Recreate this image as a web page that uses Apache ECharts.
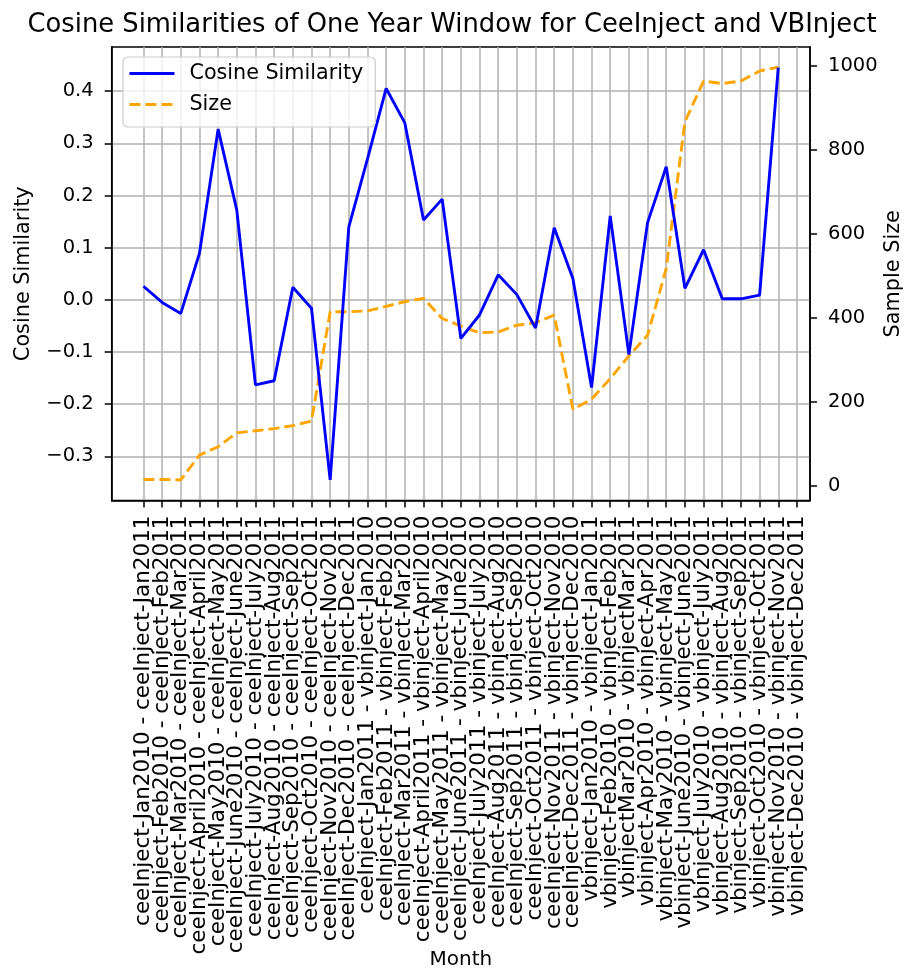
<!DOCTYPE html>
<html>
<head>
<meta charset="utf-8">
<script src="https://cdn.jsdelivr.net/npm/echarts@6/dist/echarts.min.js"></script>
<style>html,body{margin:0;padding:0;background:#fff;}#c{width:904px;height:971px;}</style>
</head>
<body>
<div id="c"></div>
<script>
const windowLabels = [
  'ceeInject-Jan2010 - ceeInject-Jan2011',
  'ceeInject-Feb2010 - ceeInject-Feb2011',
  'ceeInject-Mar2010 - ceeInject-Mar2011',
  'ceeInject-April2010 - ceeInject-April2011',
  'ceeInject-May2010 - ceeInject-May2011',
  'ceeInject-June2010 - ceeInject-June2011',
  'ceeInject-July2010 - ceeInject-July2011',
  'ceeInject-Aug2010 - ceeInject-Aug2011',
  'ceeInject-Sep2010 - ceeInject-Sep2011',
  'ceeInject-Oct2010 - ceeInject-Oct2011',
  'ceeInject-Nov2010 - ceeInject-Nov2011',
  'ceeInject-Dec2010 - ceeInject-Dec2011',
  'ceeInject-Jan2011 - vbinject-Jan2010',
  'ceeInject-Feb2011 - vbinject-Feb2010',
  'ceeInject-Mar2011 - vbinject-Mar2010',
  'ceeInject-April2011 - vbinject-April2010',
  'ceeInject-May2011 - vbinject-May2010',
  'ceeInject-June2011 - vbinject-June2010',
  'ceeInject-July2011 - vbinject-July2010',
  'ceeInject-Aug2011 - vbinject-Aug2010',
  'ceeInject-Sep2011 - vbinject-Sep2010',
  'ceeInject-Oct2011 - vbinject-Oct2010',
  'ceeInject-Nov2011 - vbinject-Nov2010',
  'ceeInject-Dec2011 - vbinject-Dec2010',
  'vbinject-Jan2010 - vbinject-Jan2011',
  'vbinject-Feb2010 - vbinject-Feb2011',
  'vbinjectMar2010 - vbinjectMar2011',
  'vbinject-Apr2010 - vbinject-Apr2011',
  'vbinject-May2010 - vbinject-May2011',
  'vbinject-June2010 - vbinject-June2011',
  'vbinject-July2010 - vbinject-July2011',
  'vbinject-Aug2010 - vbinject-Aug2011',
  'vbinject-Sep2010 - vbinject-Sep2011',
  'vbinject-Oct2010 - vbinject-Oct2011',
  'vbinject-Nov2010 - vbinject-Nov2011',
  'vbinject-Dec2010 - vbinject-Dec2011'
];
const cosineSimilarity = [
  0.026, -0.005, -0.026, 0.089, 0.327, 0.172, -0.163, -0.155, 0.024, -0.016,
  -0.345, 0.140, 0.270, 0.405, 0.339, 0.153, 0.193, -0.074, -0.029, 0.048,
  0.010, -0.054, 0.138, 0.041, -0.168, 0.161, -0.105, 0.148, 0.255, 0.022,
  0.096, 0.002, 0.002, 0.009, 0.445
];
const sampleSize = [
  15, 15, 14, 73, 93, 126, 131, 136, 143, 154,
  414, 414, 416, 427, 438, 446, 398, 380, 364, 366,
  382, 388, 406, 182, 206, 255, 309, 358, 517, 866,
  963, 957, 963, 987, 996
];
const leftTicks = [-0.3, -0.2, -0.1, 0.0, 0.1, 0.2, 0.3, 0.4];
const rightTicks = [0, 200, 400, 600, 800, 1000];

const X_MIN = -1.7, X_MAX = 35.7;
const xTicks = windowLabels.map((_, i) => i);
// blank sentinel labels at both ends so ECharts' min/max-overlap check keeps every real label
const xLabelValues = [X_MIN].concat(xTicks, [X_MAX]);
const FONT = 'DejaVu Sans';
const FS = 19.5;

const chart = echarts.init(document.getElementById('c'), null, {renderer: 'canvas'});
chart.setOption({
  animation: false,
  backgroundColor: '#fff',
  textStyle: {fontFamily: FONT},
  title: {
    text: 'Cosine Similarities of One Year Window for CeeInject and VBInject',
    left: 'center', top: 7,
    textStyle: {fontFamily: FONT, fontSize: 25.8, fontWeight: 'normal', color: '#000'}
  },
  legend: {
    orient: 'vertical', left: 123, top: 57,
    padding: [1, 12, 7, 5],
    itemWidth: 45, itemHeight: 3, itemGap: 0,
    backgroundColor: 'rgba(255,255,255,0.8)',
    borderColor: '#cccccc', borderWidth: 1.2, borderRadius: 5,
    itemStyle: {opacity: 0},
    lineStyle: {width: 2.9},
    textStyle: {fontFamily: FONT, fontSize: 20.7, color: '#000', lineHeight: 31, padding: [0, 0, 0, 10]},
    data: ['Cosine Similarity', 'Size']
  },
  grid: {
    left: 111.7, right: 94, top: 47, bottom: 470.5,
    outerBoundsMode: 'none', containLabel: false,
    show: true, borderColor: '#000', borderWidth: 1.5, backgroundColor: 'transparent'
  },
  xAxis: {
    type: 'value', min: X_MIN, max: X_MAX,
    name: 'Month', nameLocation: 'middle', nameGap: 449, nameMoveOverlap: false,
    nameTextStyle: {fontFamily: FONT, fontSize: 20, color: '#000'},
    axisLine: {show: true, onZero: false, lineStyle: {color: '#000', width: 1.5}},
    axisTick: {show: true, customValues: xTicks, length: 7, lineStyle: {color: '#000', width: 1.5}},
    axisLabel: {
      customValues: xLabelValues, rotate: 90, margin: 15,
      hideOverlap: false,
      fontFamily: FONT, fontSize: 21.5, lineHeight: 14, color: '#000',
      formatter: v => {
        const i = Math.round(v);
        return (Math.abs(v - i) < 1e-6 && windowLabels[i]) ? windowLabels[i] : ' ';
      }
    },
    splitLine: {show: true, lineStyle: {color: '#b0b0b0', width: 1.5}}
  },
  yAxis: [
    {
      type: 'value', min: -0.3845, max: 0.4845, position: 'left',
      name: 'Cosine Similarity', nameLocation: 'middle', nameGap: 78, nameMoveOverlap: false,
      nameTextStyle: {fontFamily: FONT, fontSize: 20.8, color: '#000'},
      axisLine: {show: true, onZero: false, lineStyle: {color: '#000', width: 1.5}},
      axisTick: {show: true, customValues: leftTicks, length: 7, lineStyle: {color: '#000', width: 1.5}},
      axisLabel: {
        customValues: leftTicks, margin: 18,
        showMinLabel: true, showMaxLabel: true,
        fontFamily: FONT, fontSize: FS, color: '#000',
        formatter: v => v.toFixed(1).replace('-', '\u2212')
      },
      splitLine: {show: true, lineStyle: {color: '#b0b0b0', width: 1.5}}
    },
    {
      type: 'value', min: -35, max: 1044, position: 'right',
      name: 'Sample Size', nameLocation: 'middle', nameGap: 73, nameMoveOverlap: false,
      nameTextStyle: {fontFamily: FONT, fontSize: 20.8, color: '#000'},
      axisLine: {show: true, onZero: false, lineStyle: {color: '#000', width: 1.5}},
      axisTick: {show: true, customValues: rightTicks, length: 7, lineStyle: {color: '#000', width: 1.5}},
      axisLabel: {
        customValues: rightTicks, margin: 18,
        showMinLabel: true, showMaxLabel: true,
        fontFamily: FONT, fontSize: FS, color: '#000',
        formatter: v => String(Math.round(v))
      },
      splitLine: {show: false}
    }
  ],
  series: [
    {
      name: 'Cosine Similarity', type: 'line', yAxisIndex: 0,
      symbol: 'none', showSymbol: false,
      lineStyle: {color: '#0000ff', width: 2.9},
      itemStyle: {color: '#0000ff'},
      data: cosineSimilarity.map((v, i) => [i, v]),
      z: 3
    },
    {
      name: 'Size', type: 'line', yAxisIndex: 1,
      symbol: 'none', showSymbol: false,
      lineStyle: {color: '#ffa500', width: 2.9, type: [11, 5]},
      itemStyle: {color: '#ffa500'},
      data: sampleSize.map((v, i) => [i, v]),
      z: 2
    }
  ]
});
</script>
</body>
</html>
